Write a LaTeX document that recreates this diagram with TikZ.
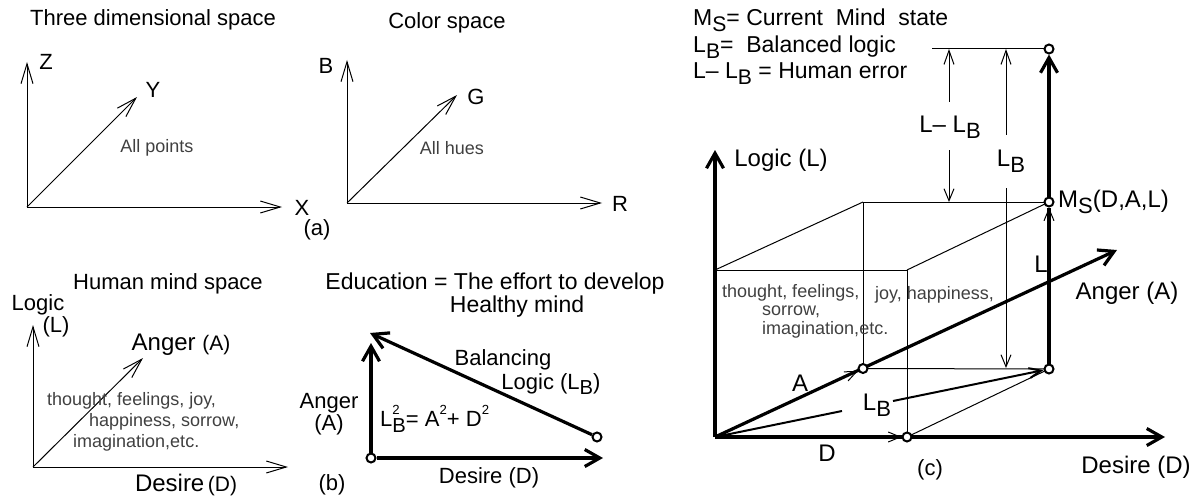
\documentclass[tikz,border=0pt]{standalone}
\usepackage{fontspec}
\setmainfont{Liberation Sans}
\usetikzlibrary{arrows.meta}
\newcommand{\dn}[1]{\raisebox{-0.5ex}{\scalebox{0.92}{#1}}}
\newcommand{\upsm}[1]{\raisebox{1.05ex}{\scalebox{0.6}{#1}}}
\begin{document}
\begin{tikzpicture}[x=1pt,y=-1pt,
  ln1/.style={line width=1pt},
  ln2/.style={line width=2pt},
  ln3/.style={line width=3.2pt},
  thinarr/.style={ln1,-{Straight Barb[length=20pt,width=12pt]}},
  tiparr/.style={ln1,-{Straight Barb[length=12pt,width=10pt]}},
  revarr/.style={ln1,{Straight Barb[length=14pt,width=10pt]}-},
  thickarr/.style={ln3,-{Straight Barb[length=15pt,width=17pt]}},
  medarr/.style={ln2,-{Straight Barb[length=12pt,width=10pt]}},
  lbl/.style={inner sep=0pt,font=\fontsize{22}{24}\selectfont},
  lblc/.style={inner sep=0pt,font=\fontsize{24}{26}\selectfont},
  smalltxt/.style={inner sep=0pt,font=\fontsize{18}{21}\selectfont,text=black!75},
  ptc/.style={circle,draw,ln2,fill=white,minimum size=9pt,inner sep=0pt}
]
\useasboundingbox (0,0) rectangle (1201,495);

% ---------- panel (a) left: three dimensional space
\coordinate (oa) at (27,207);
\coordinate (za) at (27,62);
\coordinate (ya) at (137,97);
\coordinate (xa) at (282,207);
\draw[thinarr] (oa) -- (za);
\draw[thinarr] (oa) -- (ya);
\draw[thinarr] (oa) -- (xa);
\node[lbl] (ta) at (153,20) {Three dimensional space};
\node[lbl] (zl) at (46,62) {Z};
\node[lbl] (yl) at (153,90) {Y};
\node[lbl] (xl) at (302,208) {X};
\node[smalltxt] (allp) at (157,148) {All points};

% ---------- panel (a) right: color space
\coordinate (ob) at (347,203);
\coordinate (bb) at (347,60);
\coordinate (gb) at (457,95);
\coordinate (rb) at (602,203);
\draw[thinarr] (ob) -- (bb);
\draw[thinarr] (ob) -- (gb);
\draw[thinarr] (ob) -- (rb);
\node[lbl] (tb) at (447,23) {Color space};
\node[lbl] (bl) at (326,66) {B};
\node[lbl] (gl) at (476,97) {G};
\node[lbl] (rl) at (620,204) {R};
\node[smalltxt] (allh) at (452,148) {All hues};
\node[lbl] (capa) at (317,230) {(a)};

% ---------- panel (b) left: human mind space
\coordinate (oc) at (33,467);
\coordinate (lc) at (33,325);
\coordinate (ac) at (143,358);
\coordinate (dc) at (288,467);
\draw[thinarr] (oc) -- (lc);
\draw[thinarr] (oc) -- (ac);
\draw[thinarr] (oc) -- (dc);
\node[lbl] (tc) at (168,284) {Human mind space};
\node[lbl] (logl) at (38,305) {Logic};
\node[lbl] (logp) at (56,327) {(L)};
\node[lblc] (angc) at (181,345) {Anger {\fontsize{21}{22}\selectfont(A)}};
\node[lblc] (desc) at (186,485) {Desire{\fontsize{21}{22}\selectfont\,(D)}};
\node[smalltxt,anchor=west] (t1) at (47,401) {thought, feelings, joy,};
\node[smalltxt,anchor=west] (t2) at (89,422) {happiness, sorrow,};
\node[smalltxt,anchor=west] (t3) at (73,443) {imagination,etc.};
\node[lbl] (capb) at (332,485) {(b)};

% ---------- panel (b) right: education triangle
\node[lbl,font=\fontsize{23}{25}\selectfont] (te1) at (495,284) {Education = The effort to develop};
\node[lbl,font=\fontsize{23}{25}\selectfont] (te2) at (517,307) {Healthy mind};
\node[ptc] (o2) at (371,458) {};
\node[ptc] (e2) at (597,437) {};
\coordinate (v2) at (371,343);
\coordinate (h2) at (603,458);
\coordinate (hy2) at (370,333);
\draw[thickarr] (o2) -- (v2);
\draw[thickarr] (o2) -- (h2);
\draw[thickarr] (e2) -- (hy2);
\node[lbl] (bal) at (503,360) {Balancing};
\node[lbl] (lgb) at (551,384) {Logic (L\dn{B})};
\node[lbl] (ang2) at (329,403) {Anger};
\node[lbl] (ang2b) at (329,425) {(A)};
\node[lbl,anchor=west] (frm) at (380,419) {L\rlap{\upsm{2}}\dn{B}= A\upsm{2}+ D\upsm{2}};
\node[lbl] (des2) at (489,478) {Desire (D)};

% ---------- panel (c)
\node[lbl,anchor=west,font=\fontsize{23}{25}\selectfont] (lg1) at (693,20) {M\dn{S}= Current\ \ Mind\ \ state};
\node[lbl,anchor=west,font=\fontsize{23}{25}\selectfont] (lg2) at (693,47) {L\dn{B}= \ Balanced logic};
\node[lbl,anchor=west,font=\fontsize{23}{25}\selectfont] (lg3) at (693,74) {L– L\dn{B} = Human error};

\coordinate (O) at (715,437);
\coordinate (Ltip) at (715,150);
\coordinate (Dtip) at (1165,437);
\coordinate (Atip) at (1117,250);
\coordinate (Lp) at (715,270);
\coordinate (DL) at (907,270);
\coordinate (AL) at (863,202);
\coordinate (topl) at (932,49);

% box edges (thin)
\draw[ln1] (Lp) -- (DL);
\draw[ln1] (Lp) -- (AL);
\draw[ln1] (AL) -- (1049,202);
\draw[ln1] (DL) -- (1049,202);
\draw[ln1] (AL) -- (863,368.5);
\draw[ln1] (907,437) -- (DL);
\draw[ln1] (863,368.5) -- (1049,369);
\draw[ln1] (907,437) -- (1049,369);

% axes
\draw[thickarr] (O) -- (Ltip);
\draw[thickarr] (O) -- (Dtip);
\draw[thickarr] (O) -- (Atip);

% points
\node[ptc] (Ap) at (863,368.5) {};
\node[ptc] (Dp) at (907,437) {};
\node[ptc] (DA) at (1049,369) {};
\node[ptc] (MS) at (1049,202) {};
\node[ptc] (TP) at (1049,49) {};

% small vector tips
\draw[tiparr] (O) -- (Ap);
\draw[tiparr] (O) -- (Dp);
\draw[ln3] (DA) -- (MS);
\draw[tiparr] (DA) -- (MS);
\draw[thickarr] (MS) -- (TP);
\draw[ln1] (topl) -- (TP);

% balanced logic line O -> D+A with gap
\coordinate (lb1) at (842,411);
\coordinate (lb2) at (893,401);
\draw[ln2] (O) -- (lb1);
\draw[medarr] (lb2) -- (DA);
\node[lblc] (lbl1) at (877,405) {L\dn{B}};

% dimension lines
\coordinate (da1) at (949,49);
\coordinate (da2) at (949,102);
\coordinate (da3) at (949,150);
\coordinate (da4) at (949,202);
\draw[revarr] (da1) -- (da2);
\draw[tiparr] (da3) -- (da4);
\node[lblc] (dal) at (950,127) {L– L\dn{B}};
\coordinate (db1) at (1006,49);
\coordinate (db2) at (1006,135);
\coordinate (db3) at (1006,188);
\coordinate (db4) at (1006,368);
\draw[revarr] (db1) -- (db2);
\draw[tiparr] (db3) -- (db4);
\node[lblc] (dbl) at (1011,161) {L\dn{B}};

% labels
\node[lblc] (logc) at (781,160) {Logic (L)};
\node[lblc,anchor=west] (msl) at (1058,202) {M\dn{S}(D,A,L)};
\node[lblc] (lll) at (1041,264) {L};
\node[lblc] (angl) at (1127,293) {Anger (A)};
\node[lblc] (al) at (800,383) {A};
\node[lblc] (dl) at (827,453) {D};
\node[lbl] (capc) at (930,470) {(c)};
\node[lblc] (desl) at (1136,467) {Desire (D)};
\node[smalltxt,anchor=west] (c1) at (722,293) {thought, feelings,};
\node[smalltxt,anchor=west] (c2) at (762,312) {sorrow,};
\node[smalltxt,anchor=west] (c3) at (762,330) {imagination,etc.};
\node[smalltxt,anchor=west] (c4) at (875,295) {joy, happiness,};
\end{tikzpicture}
\end{document}
